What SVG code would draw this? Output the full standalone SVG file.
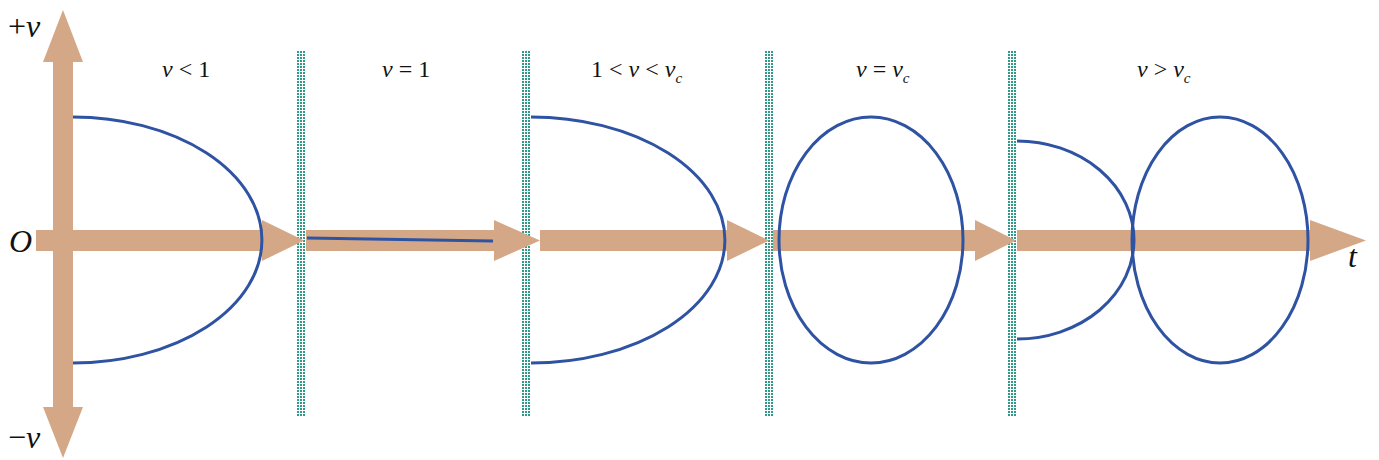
<svg xmlns="http://www.w3.org/2000/svg" width="1379" height="460" viewBox="0 0 1379 460">
<style>
.ax{fill:#d4a887;stroke:none}
.cv{fill:none;stroke:#2f53a3;stroke-width:3}
.lb{font-family:"Liberation Serif",serif;font-size:24px;fill:#111}
.it{font-style:italic}
.ax-t{font-family:"Liberation Serif",serif;font-size:32px;fill:#111;font-style:italic}
</style>
<defs>
<pattern id="dots" width="3" height="3" patternUnits="userSpaceOnUse">
<rect x="0" y="0" width="2" height="2" fill="#2e9a87"/>
</pattern>
</defs>
<g id="dividers">
<rect x="297" y="50" width="9" height="366" fill="url(#dots)"/>
<rect x="521" y="50" width="9" height="366" fill="url(#dots)"/>
<rect x="765" y="50" width="9" height="366" fill="url(#dots)"/>
<rect x="1007" y="50" width="9" height="366" fill="url(#dots)"/>
</g>
<g id="axes">
<polygon class="ax" points="53,407 53,62 43,62 63,10 83,62 73,62 73,407 83,407 63,458 43,407"/>
<polygon class="ax" points="36,230 262,230 262,220 304,240.5 262,261 262,251 36,251"/>
<polygon class="ax" points="306,230 494,230 494,220 540,240.5 494,261 494,251 306,251"/>
<polygon class="ax" points="540,230 727,230 727,220 769,240.5 727,261 727,251 540,251"/>
<polygon class="ax" points="773,230 975,230 975,220 1016,240.5 975,261 975,251 773,251"/>
<polygon class="ax" points="1017,230 1310,230 1310,220 1366,240.5 1310,261 1310,251 1017,251"/>
</g>
<g id="curves">
<path class="cv" d="M73,117 A189,123 0 0 1 73,363"/>
<path class="cv" d="M307,238 L493,241"/>
<path class="cv" d="M531,117 A194,123 0 0 1 531,363"/>
<ellipse class="cv" cx="871" cy="240" rx="92" ry="123"/>
<path class="cv" d="M1017,141 A117,99 0 0 1 1017,339"/>
<ellipse class="cv" cx="1220" cy="240" rx="88" ry="123"/>
</g>
<g id="labels">
<text class="ax-t" x="8" y="37"><tspan font-style="normal">+</tspan>v</text>
<text class="ax-t" x="8" y="448"><tspan font-style="normal">−</tspan>v</text>
<text class="ax-t" x="9" y="252">O</text>
<text class="ax-t" x="1348" y="267">t</text>
<text class="lb" x="162" y="77"><tspan class="it">ν</tspan> &lt; 1</text>
<text class="lb" x="382" y="77"><tspan class="it">ν</tspan> = 1</text>
<text class="lb" x="591" y="77">1 &lt; <tspan class="it">ν</tspan> &lt; <tspan class="it">ν</tspan><tspan class="it" font-size="15" dy="6">c</tspan></text>
<text class="lb" x="856" y="77"><tspan class="it">ν</tspan> = <tspan class="it">ν</tspan><tspan class="it" font-size="15" dy="6">c</tspan></text>
<text class="lb" x="1137" y="77"><tspan class="it">ν</tspan> &gt; <tspan class="it">ν</tspan><tspan class="it" font-size="15" dy="6">c</tspan></text>
</g>
</svg>
